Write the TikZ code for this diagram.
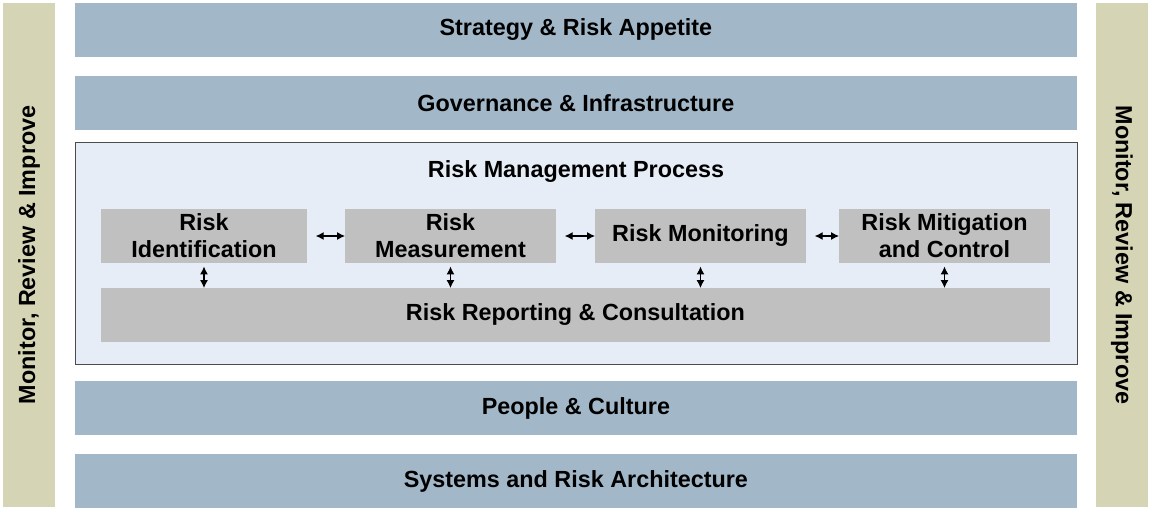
\documentclass[tikz,border=0pt]{standalone}
\usepackage{fontspec}
\setmainfont{Liberation Sans}
\usetikzlibrary{arrows.meta}

\definecolor{barblue}{RGB}{162,184,201}
\definecolor{sidetan}{RGB}{213,212,181}
\definecolor{procfill}{RGB}{230,237,247}
\definecolor{stepgray}{RGB}{192,192,192}

\tikzset{
  layer/.style={fill=barblue, anchor=north west, inner sep=0pt, outer sep=0pt,
    minimum width=20.04cm, minimum height=1.08cm, font=\fontsize{13.3}{15.5}\selectfont\bfseries},
  side/.style={fill=sidetan, anchor=north west, inner sep=0pt, outer sep=0pt,
    minimum width=1.04cm, minimum height=10.08cm},
  sidetext/.style={font=\fontsize{13.3}{15.5}\selectfont\bfseries},
  stepbox/.style={fill=stepgray, anchor=north west, inner sep=0pt, outer sep=0pt,
    minimum height=1.08cm, align=center, font=\fontsize{13.3}{15.5}\selectfont\bfseries},
  link/.style={{Latex[length=4.5pt,width=4.5pt]}-{Latex[length=4.5pt,width=4.5pt]}, line width=0.6pt}
}

\begin{document}
\begin{tikzpicture}[x=0.02cm,y=-0.02cm]
\useasboundingbox (0,0) rectangle (1149,508);
% side bars
\node[side] (leftbar) at (3,3) {};
\node[side] (rightbar) at (1096,3) {};
\node[sidetext, rotate=90] at (leftbar.center) {Monitor, Review \& Improve};
\node[sidetext, rotate=-90] at (rightbar.center) {Monitor, Review \& Improve};
% layers
\node[layer] (strategy) at (75,3) {Strategy \& Risk Appetite};
\node[layer] (governance) at (75,76) {Governance \& Infrastructure};
\node[layer] (people) at (75,381) {People \& Culture};
\node[layer] (systems) at (75,454) {Systems and Risk Architecture};
% process box
\filldraw[fill=procfill, draw=black!70] (75,142) rectangle (1077,364);
\node[font=\fontsize{13.3}{15.5}\selectfont\bfseries] (process) at (576,172) {Risk Management Process};
\node[stepbox, minimum width=4.12cm] (ident) at (101,209) {Risk\\Identification};
\node[stepbox, minimum width=4.22cm] (meas) at (345,209) {Risk\\Measurement};
\node[stepbox, minimum width=4.22cm] (monit) at (595,209) {Risk Monitoring};
\node[stepbox, minimum width=4.22cm] (mitig) at (839,209) {Risk Mitigation\\and Control};
\node[stepbox, minimum width=18.98cm] (report) at (101,288) {Risk Reporting \& Consultation};
% links
\draw[link, shorten <=5] (ident.east) -- (meas.west);
\draw[link, shorten <=5] (meas.east) -- (monit.west);
\draw[link, shorten <=5] (monit.east) -- (mitig.west);
\foreach \b in {ident,meas,monit,mitig}
	\draw[link, shorten <=2] (\b.south) -- (\b.south |- report.north);
\end{tikzpicture}
\end{document}
